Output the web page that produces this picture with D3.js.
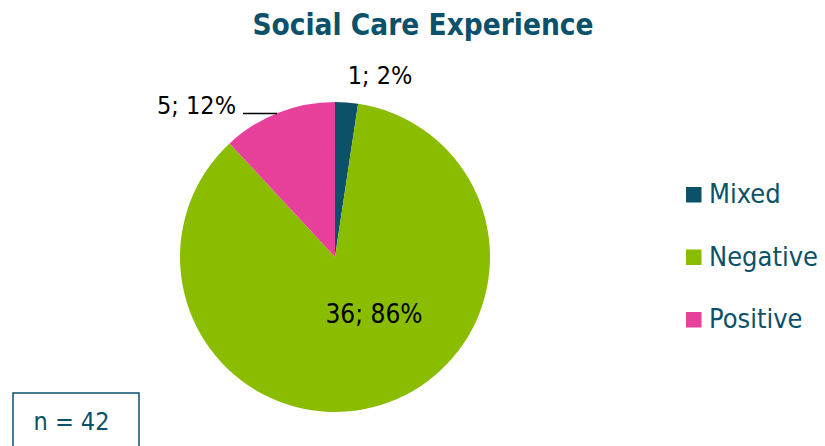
<!DOCTYPE html>
<html>
<head>
<meta charset="utf-8">
<script src="https://cdn.jsdelivr.net/npm/d3@7"></script>
<style>
  body { margin: 0; background: #fff; }
  svg { display: block; font-family: "DejaVu Sans Condensed", "DejaVu Sans", Verdana, sans-serif; font-stretch: condensed; }
</style>
</head>
<body>
<svg id="chart" width="825" height="446"></svg>
<script>
// Survey responses on social care experience
const categories = ["Mixed", "Negative", "Positive"];
const counts = [1, 36, 5];
const percents = ["2%", "86%", "12%"];
const colors = ["#0b5169", "#8abd00", "#e6409b"];
const totalLabel = "n = 42";
const title = "Social Care Experience";

const svg = d3.select("#chart");
const teal = "#0b5169";
const cx = 335, cy = 257, r = 155;

svg.append("text")
  .attr("x", 423).attr("y", 35)
  .attr("text-anchor", "middle")
  .attr("font-size", 29.5).attr("font-weight", "bold")
  .attr("fill", teal)
  .text(title);

const pie = d3.pie().sort(null).value(d => d);
const arcs = pie(counts);
const arc = d3.arc().innerRadius(0).outerRadius(r);

const g = svg.append("g").attr("transform", `translate(${cx},${cy})`);
g.selectAll("path").data(arcs).join("path")
  .attr("d", arc)
  .attr("fill", (d, i) => colors[i]);

// Data labels: count; share
const labelPos = [
  { x: 380, y: 84, size: 25 },
  { x: 374, y: 323, size: 26 },
  { x: 196.5, y: 114, size: 25 }
];
svg.selectAll("text.lbl").data(arcs).join("text")
  .attr("class", "lbl")
  .attr("x", (d, i) => labelPos[i].x)
  .attr("y", (d, i) => labelPos[i].y)
  .attr("text-anchor", "middle")
  .attr("font-size", (d, i) => labelPos[i].size)
  .attr("fill", "#000")
  .text((d, i) => `${counts[i]}; ${percents[i]}`);

// Leader line for the Positive slice label
svg.append("line")
  .attr("x1", 243).attr("y1", 113.5).attr("x2", 277).attr("y2", 113.5)
  .attr("stroke", "#000").attr("stroke-width", 1.3);

// Legend
const leg = svg.append("g");
categories.forEach((c, i) => {
  const y = 194.5 + i * 62.5;
  leg.append("rect").attr("x", 686).attr("y", y - 7.5).attr("width", 15.5).attr("height", 15.5)
    .attr("fill", colors[i]);
  leg.append("text").attr("x", 709).attr("y", y + 8.5)
    .attr("font-size", 27).attr("fill", teal).text(c);
});

// Sample size box
svg.append("rect").attr("x", 13).attr("y", 393).attr("width", 126).attr("height", 70)
  .attr("fill", "none").attr("stroke", teal).attr("stroke-width", 1.5);
svg.append("text").attr("x", 71.5).attr("y", 430).attr("text-anchor", "middle")
  .attr("font-size", 25).attr("fill", teal).text(totalLabel);
</script>
</body>
</html>
